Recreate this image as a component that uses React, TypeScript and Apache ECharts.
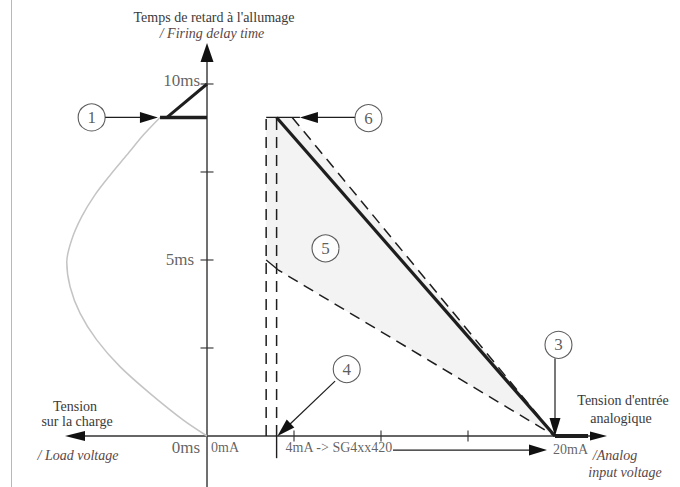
import React, { useEffect, useRef } from 'react';
import * as echarts from 'echarts';

const FONT = "'Liberation Serif', 'DejaVu Serif', serif";
const INK = '#1e1e1e';
const AXIS = '#333333';
const TEXT = '#3a3a3a';
const TEXT_IT = '#5a4747';

// value extents of the whole drawing area (x: mA on the right / load voltage on the left, y: firing delay in ms)
const xMin = -11.897;
const xMax = 27.184;
const yMin = -1.449;
const yMax = 12.386;

// axis arrow tips
const xAxisLeftTip = -8.16;
const xAxisRightTip = 22.99;
const yAxisTopTip = 11.165;

const yTickValues = [2.5, 5, 7.5, 10];
const xTickValues = [5, 10, 15];
const yLabelValues = [10, 5, 0];
const yLabelTexts = ['10ms', '5ms', '0ms'];
const xLabelValues = [0, 4, 20];
const xLabelTexts = ['0mA', '4mA -> SG4xx420', '20mA'];

// load voltage curve (grey)
const loadCurveX = [0, -1.36, -3.28, -5.0, -6.34, -7.3, -7.87, -8.06, -7.78, -7.2, -6.44, -5.57, -4.61, -3.66, -2.7];
const loadCurveY = [0, 0.45, 1.21, 1.97, 2.73, 3.49, 4.24, 4.94, 5.57, 6.23, 6.85, 7.41, 7.98, 8.55, 9.05];

// key values
const maxDelay = 9.05; // ms
const limitDelay = 10; // ms
const lowCurrent = 3.4; // mA
const startCurrent = 4; // mA
const endCurrent = 20; // mA
const upperDashStart = 4.9; // mA
const limitStartX = -2.7;
const limitDiagStartX = -2.3;
const saturationEnd = 21.9;
const lowerDashX = [3.4, 4.08, 20];
const lowerDashY = [5.0, 4.72, 0];
const fillX = [3.4, 4.9, 20, 4.08, 3.4];
const fillY = [9.05, 9.05, 0, 4.72, 5.0];
const tick4mAEnd = -0.63;

// numbered markers
const markerNames = ['1', '6', '5', '4', '3'];
const markerX = [-6.63, 9.28, 6.81, 8.03, 20.2];
const markerY = [9.05, 9.03, 5.33, 1.9, 2.59];

// arrows (from -> tip)
const arrowFromX = [-5.86, 8.5, 20, 7.36, 10.69];
const arrowFromY = [9.05, 9.05, 2.2, 1.56, -0.4];
const arrowToX = [-2.82, 5.34, 20, 4.05, 19.54];
const arrowToY = [9.05, 9.05, 0, 0, -0.4];

const pts = (xs: number[], ys: number[]) => xs.map((x, i) => [x, ys[i]]);

const arrowSeries = (data: number[][], L: number, W: number, lw: number, color: string, z: number) => ({
  type: 'custom',
  silent: true,
  z,
  clip: false,
  data,
  renderItem: (_p: any, api: any) => {
    const p1 = api.coord([api.value(0), api.value(1)]);
    const p2 = api.coord([api.value(2), api.value(3)]);
    const dx = p2[0] - p1[0];
    const dy = p2[1] - p1[1];
    const len = Math.hypot(dx, dy) || 1;
    const ux = dx / len;
    const uy = dy / len;
    const bx = p2[0] - ux * L;
    const by = p2[1] - uy * L;
    return {
      type: 'group',
      children: [
        { type: 'line', shape: { x1: p1[0], y1: p1[1], x2: bx + ux * 2, y2: by + uy * 2 }, style: { stroke: color, lineWidth: lw } },
        {
          type: 'polygon',
          shape: { points: [[p2[0], p2[1]], [bx - uy * W, by + ux * W], [bx + uy * W, by - ux * W]] },
          style: { fill: '#111' },
        },
      ],
    };
  },
});

export default function App() {
  const ref = useRef<HTMLDivElement>(null);

  useEffect(() => {
    document.body.style.margin = '0';
    if (!ref.current) return;
    const chart = echarts.init(ref.current, undefined, { renderer: 'svg' });

    const solid = (w: number, c = INK) => ({ color: c, width: w, type: 'solid' as const });
    const dashed = { color: INK, width: 1.5, type: [11, 7] as number[] };
    const lineSeries = (data: number[][], lineStyle: any, z = 3) => ({
      type: 'line',
      data,
      showSymbol: false,
      symbol: 'none',
      clip: false,
      silent: true,
      lineStyle,
      z,
    });

    const hiddenAxis = (min: number, max: number) => ({
      type: 'value',
      min,
      max,
      show: false,
      axisLine: { show: false },
      axisTick: { show: false },
      axisLabel: { show: false },
      splitLine: { show: false },
    });

    const text = (x: number, y: number, t: string, italic = false) => ({
      type: 'text',
      x,
      y,
      style: {
        text: t,
        font: `${italic ? 'italic ' : ''}14px ${FONT}`,
        fill: italic ? TEXT_IT : TEXT,
        align: 'center',
        verticalAlign: 'middle',
      },
    });

    const option: any = {
      animation: false,
      backgroundColor: '#ffffff',
      grid: { left: 0, right: 0, top: 0, bottom: 0 },
      xAxis: hiddenAxis(xMin, xMax),
      yAxis: hiddenAxis(yMin, yMax),
      graphic: [
        { type: 'line', shape: { x1: 11.5, y1: 0, x2: 11.5, y2: 487 }, style: { stroke: '#b8b8b8', lineWidth: 1 } },
        text(214, 17, "Temps de retard à l'allumage"),
        text(212, 33, '/ Firing delay time', true),
        text(75, 406, 'Tension'),
        text(77, 421, 'sur la charge'),
        text(78, 455, '/ Load voltage', true),
        text(623, 400, "Tension d'entrée"),
        text(621, 418, 'analogique'),
        text(615, 455, '/Analog', true),
        text(625, 472, 'input voltage', true),
      ],
      series: [
        // shaded tolerance area
        {
          type: 'custom',
          silent: true,
          z: 1,
          clip: false,
          data: [[0, 0]],
          renderItem: (_p: any, api: any) => ({
            type: 'polygon',
            shape: { points: pts(fillX, fillY).map((p) => api.coord(p)) },
            style: { fill: '#f3f3f3', stroke: 'none' },
          }),
        },
        // axes
        arrowSeries([[0, yMin, 0, yAxisTopTip]], 19, 6.5, 1.4, AXIS, 2),
        arrowSeries([[0, 0, xAxisLeftTip, 0]], 20, 5, 1.4, AXIS, 2),
        arrowSeries([[0, 0, xAxisRightTip, 0]], 17, 4.5, 1.4, AXIS, 2),
        // load voltage curve
        { ...lineSeries(pts(loadCurveX, loadCurveY), { color: '#c4c4c4', width: 1.5 }, 2), smooth: 0.3 },
        // vertical dashed limits
        lineSeries([[lowCurrent, 0], [lowCurrent, maxDelay]], dashed),
        lineSeries([[startCurrent, 0], [startCurrent, maxDelay]], dashed),
        // upper and lower dashed tolerance lines
        lineSeries([[upperDashStart, maxDelay], [endCurrent, 0]], dashed),
        lineSeries([[lowerDashX[0], lowerDashY[0]], [lowerDashX[1], lowerDashY[1]]], solid(1.3)),
        lineSeries([[lowerDashX[1], lowerDashY[1]], [lowerDashX[2], lowerDashY[2]]], { ...dashed, dashOffset: 6 }),
        // nominal characteristic
        lineSeries([[startCurrent, maxDelay], [endCurrent, 0]], solid(3.2), 4),
        // max delay limit (1)
        lineSeries([[limitStartX, maxDelay], [0, maxDelay]], solid(3.5), 4),
        lineSeries([[limitDiagStartX, maxDelay], [0, limitDelay]], solid(3), 4),
        // saturation after 20 mA (3)
        lineSeries([[endCurrent, 0], [saturationEnd, 0]], solid(4), 4),
        // top cap line
        lineSeries([[lowCurrent, maxDelay], [arrowToX[1], maxDelay]], solid(1.2)),
        // 4 mA tick below the axis
        lineSeries([[startCurrent, 0], [startCurrent, tick4mAEnd]], solid(1.4)),
        // axis ticks
        {
          type: 'scatter',
          silent: true,
          z: 4,
          symbol: 'rect',
          symbolSize: [13, 1.4],
          itemStyle: { color: AXIS },
          data: yTickValues.map((v) => [0, v]),
        },
        {
          type: 'scatter',
          silent: true,
          z: 4,
          symbol: 'rect',
          symbolSize: [1.4, 11],
          itemStyle: { color: AXIS },
          data: xTickValues.map((v) => [v, 0]),
        },
        // y tick labels
        {
          type: 'scatter',
          silent: true,
          z: 6,
          symbolSize: 0,
          data: yLabelValues.map((v, i) => ({
            name: yLabelTexts[i],
            value: [0, v],
            label: {
              show: true,
              position: 'left',
              distance: i === 1 ? 13 : 7,
              offset: i === 0 ? [0, -3] : i === 2 ? [0, 12] : [0, 0],
              formatter: '{b}',
              fontFamily: FONT,
              fontSize: 17,
              color: TEXT,
            },
          })),
        },
        // x tick labels
        {
          type: 'scatter',
          silent: true,
          z: 6,
          symbolSize: 0,
          data: xLabelValues.map((v, i) => ({
            name: xLabelTexts[i],
            value: [v, 0],
            label: {
              show: true,
              position: 'right',
              distance: i === 0 ? 4 : i === 1 ? 9 : -2,
              offset: i === 2 ? [0, 14] : [0, 12],
              formatter: '{b}',
              fontFamily: FONT,
              fontSize: 14,
              color: TEXT,
            },
          })),
        },
        // annotation arrows
        arrowSeries(arrowFromX.map((x, i) => [x, arrowFromY[i], arrowToX[i], arrowToY[i]]), 18, 5.5, 1.2, INK, 7),
        // numbered circles
        {
          type: 'scatter',
          silent: true,
          z: 8,
          symbol: 'circle',
          symbolSize: 27,
          itemStyle: { color: '#ffffff', borderColor: '#333', borderWidth: 1.1 },
          label: {
            show: true,
            position: 'inside',
            formatter: '{b}',
            fontFamily: FONT,
            fontSize: 17,
            color: '#333',
          },
          data: markerNames.map((n, i) => ({ name: n, value: [markerX[i], markerY[i]] })),
        },
      ],
    };

    chart.setOption(option);
    return () => chart.dispose();
  }, []);

  return <div ref={ref} style={{ position: 'fixed', left: 0, top: 0, width: 680, height: 487 }} />;
}
